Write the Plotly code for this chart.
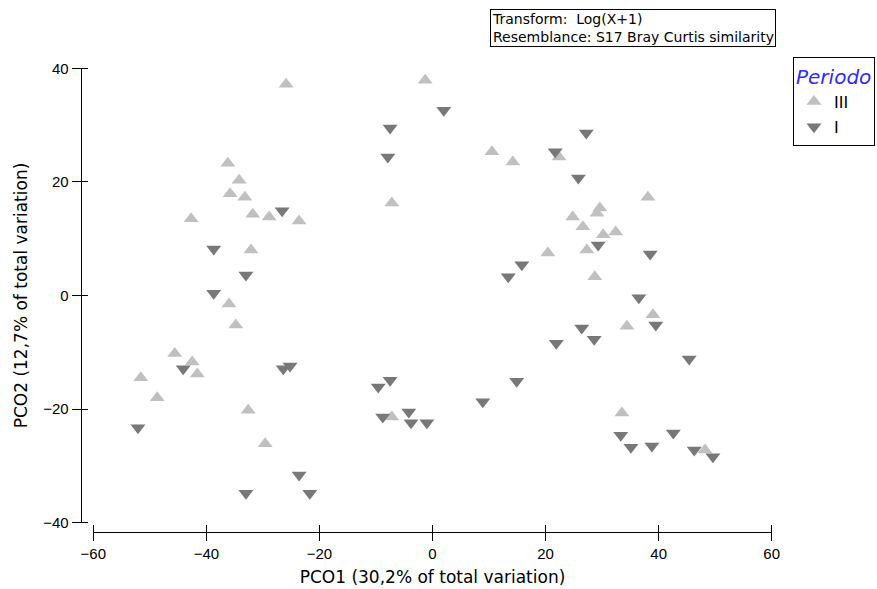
import plotly.graph_objects as go

# PCO scores for samples of period III
iii_pco1 = [-25.9, -1.3, -36.2, -34.2, -35.8, -33.2, -42.7, -31.8, -28.9, -23.6,
            -32.1, -36.0, -34.8, -45.6, -42.5, -41.6, -51.6, -48.7, -32.6, -29.6,
            -7.2, -7.2, 10.5, 14.2, 22.4, 20.4, 24.8, 26.6, 29.6, 29.1,
            32.4, 30.2, 27.3, 28.7, 38.1, 39.0, 34.4, 33.5, 48.2]
iii_pco2 = [37.2, 37.9, 23.3, 20.3, 17.9, 17.3, 13.5, 14.3, 13.8, 13.1,
            8.0, -1.5, -5.2, -10.2, -11.7, -13.8, -14.5, -18.0, -20.2, -26.1,
            16.3, -21.4, 25.3, 23.5, 24.4, 7.5, 13.8, 12.1, 15.4, 14.5,
            11.2, 10.7, 8.0, 3.3, 17.3, -3.4, -5.4, -20.7, -27.2]

# PCO scores for samples of period I
i_pco1 = [-3.8, 2.0, -7.5, -7.9, 27.2, 21.7, 25.8, -26.6, -38.7, -33.0,
          -38.7, 29.3, 38.5, 15.8, 13.4, 36.5, 39.5, 26.4, 28.6, 21.9,
          45.4, 14.9, -44.1, -26.4, -25.2, -7.5, -9.6, -8.8, -4.2, -3.8,
          -1.0, 8.9, -52.1, -23.6, -33.0, -21.7, 33.3, 35.1, 38.8, 42.6,
          46.3, 49.6]
i_pco2 = [41.1, 32.6, 29.5, 24.4, 28.6, 25.3, 20.7, 14.9, 8.2, 3.6,
          0.4, 8.9, 7.3, 5.4, 3.3, -0.4, -5.2, -5.7, -7.7, -8.4,
          -11.2, -15.1, -12.9, -12.9, -12.4, -14.9, -16.1, -21.4, -20.5, -22.4,
          -22.4, -18.7, -23.3, -31.6, -34.8, -34.8, -24.6, -26.7, -26.5, -24.2,
          -27.2, -28.4]

x_ticks = [-60, -40, -20, 0, 20, 40, 60]
y_ticks = [-40, -20, 0, 20, 40]

W, H = 877, 589
FONT = "Arial, Liberation Sans, sans-serif"
WIDE = "DejaVu Sans, sans-serif"

# plot area in pixels (left, right, top, bottom) and detached axis lines
PL, PR, PT, PB = 93.3, 771.7, 68.3, 522.7
Y_LINE_X = 80.7
X_LINE_Y = 532.0

fig = go.Figure()

# period III on the main axes (lower/left tick marks, labels)
fig.add_trace(go.Scatter(
    x=iii_pco1, y=iii_pco2, mode="markers", name="III",
    marker=dict(symbol="triangle-up", size=13, color="#c0c0c0",
                line=dict(width=0)),
))
# period I on the twin axes (upper/right tick marks, so ticks cross the lines)
fig.add_trace(go.Scatter(
    x=i_pco1, y=i_pco2, mode="markers", name="I", xaxis="x2", yaxis="y2",
    marker=dict(symbol="triangle-down", size=13, color="#787878",
                line=dict(width=0)),
))

xdom = [PL / W, PR / W]
ydom = [1 - PB / H, 1 - PT / H]

common = dict(showgrid=False, zeroline=False, tickcolor="black", tickwidth=1,
              automargin=False)

fig.update_layout(
    width=W, height=H,
    margin=dict(l=0, r=0, t=0, b=0, autoexpand=False),
    paper_bgcolor="white", plot_bgcolor="white",
    showlegend=True,
    xaxis=dict(
        common, domain=xdom, range=[-60, 60], tickvals=x_ticks,
        showline=True, linecolor="black", linewidth=1,
        ticks="outside", ticklen=8, anchor="free", position=1 - X_LINE_Y / H,
        tickfont=dict(family=FONT, size=15, color="black"),
        title=dict(text="PCO1 (30,2% of total variation)",
                   font=dict(family=WIDE, size=17, color="black"), standoff=10),
    ),
    yaxis=dict(
        common, domain=ydom, range=[-40, 40], tickvals=y_ticks,
        showline=True, linecolor="black", linewidth=1,
        ticks="outside", ticklen=9, anchor="free", position=Y_LINE_X / W,
        tickfont=dict(family=FONT, size=15, color="black"),
        title=dict(text="PCO2 (12,7% of total variation)",
                   font=dict(family=WIDE, size=17, color="black"), standoff=10),
    ),
    xaxis2=dict(
        common, domain=xdom, range=[-60, 60], tickvals=x_ticks,
        overlaying="x", anchor="free", position=1 - X_LINE_Y / H, side="top",
        ticks="outside", ticklen=7, showticklabels=False, showline=False,
    ),
    yaxis2=dict(
        common, domain=ydom, range=[-40, 40], tickvals=y_ticks,
        overlaying="y", anchor="free", position=Y_LINE_X / W, side="right",
        ticks="outside", ticklen=6, showticklabels=False, showline=False,
    ),
    legend=dict(
        x=793 / W, y=1 - 57 / H, xanchor="left", yanchor="top",
        bordercolor="black", borderwidth=1, bgcolor="white",
        font=dict(family=FONT, size=17, color="black"),
        title=dict(text="Periodo",
                   font=dict(family=WIDE, size=20, color="#2b2bff",
                             style="italic")),
        itemwidth=30, tracegroupgap=0,
    ),
    annotations=[dict(
        xref="paper", yref="paper", x=490 / W, y=1 - 9 / H,
        xanchor="left", yanchor="top", align="left", showarrow=False,
        text="Transform:  Log(X+1)<br>Resemblance: S17 Bray Curtis similarity",
        font=dict(family=WIDE, size=14, color="black"),
        bordercolor="black", borderwidth=1, borderpad=1, bgcolor="white",
    )],
)

fig.write_html("out.html")
